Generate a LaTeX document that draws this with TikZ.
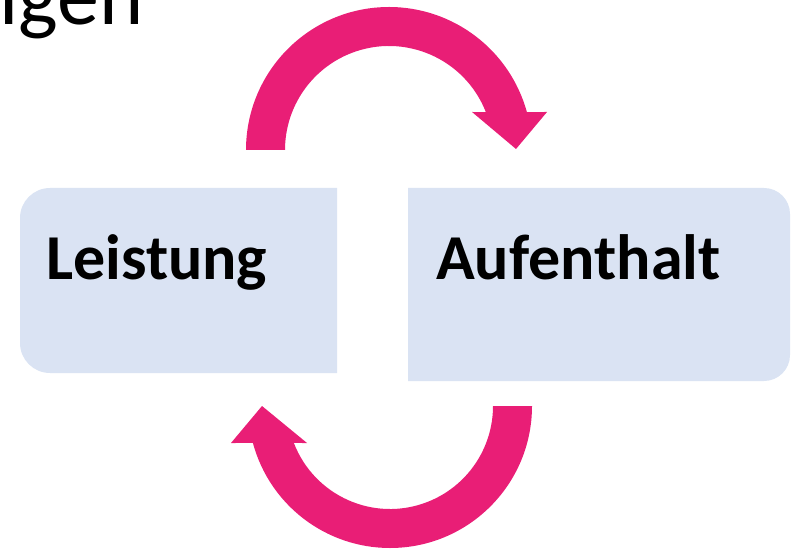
\documentclass[tikz,border=0pt]{standalone}
\usepackage{fontspec}
\setmainfont{Carlito}
\usetikzlibrary{calc}
\definecolor{arrowpink}{HTML}{E91E76}
\definecolor{boxblue}{HTML}{DAE3F3}
\tikzset{
  boxfill/.style={fill=boxblue, draw=none},
  bendarrow/.style={fill=arrowpink, draw=none},
  label/.style={font=\fontsize{64}{64}\selectfont\bfseries, inner sep=0pt, anchor=base west},
}
\begin{document}
\begin{tikzpicture}[x=1pt,y=1pt]
\useasboundingbox (0,0) rectangle (791,549);
% title fragment
\node[font=\fontsize{84}{84}\selectfont, inner sep=0pt, anchor=base west] (title) at (-1,524) {igen};
% boxes
\path[boxfill] (337,176) [rounded corners=30pt] -- (20,176) -- (20,361) [sharp corners] -- (337,361) -- cycle;
\path[boxfill] (408,168) [rounded corners=26pt] -- (790,168) -- (790,361) [sharp corners] -- (408,361) -- cycle;
\node[label] (leistung) at (46,269) {Leistung};
\node[label] (aufenthalt) at (436,269) {Aufenthalt};
% top circular arrow
\path[bendarrow] (246,399) arc[start angle=180, end angle=15.4, radius=143]
  -- (547,437) -- (516,400) -- (472,437)
  -- ($(389,399)+(21.4:104)$) arc[start angle=21.4, end angle=180, radius=104] -- cycle;
% bottom circular arrow
\path[bendarrow] (532,143) arc[start angle=0, end angle=-164.9, radius=142]
  -- (231,106) -- (262,143) -- (307,106)
  -- ($(390,143)+(-158.95:103)$) arc[start angle=-158.95, end angle=0, radius=103] -- cycle;
\end{tikzpicture}
\end{document}
